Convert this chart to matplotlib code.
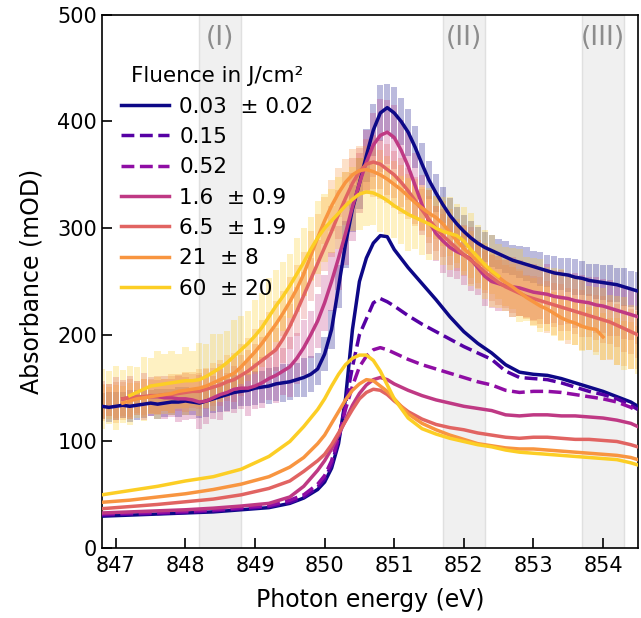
import numpy as np
import matplotlib
matplotlib.use("Agg")
import matplotlib.pyplot as plt

# fluence labels (J/cm^2)
labels = ["0.03  \u00b1 0.02", "0.15", "0.52", "1.6  \u00b1 0.9",
          "6.5  \u00b1 1.9", "21  \u00b1 8", "60  \u00b1 20"]
styles = ["-", "--", "--", "-", "-", "-", "-"]

# measured spectra, 0.1 eV bins from 846.8 to 854.5 eV
e_meas = np.round(np.arange(846.8, 854.55, 0.1), 1)

meas_003 = [133, 132, 133, 134, 133, 134, 135, 136, 135, 136, 137, 137,
            138, 137, 136, 138, 140, 142, 144, 146, 147, 148,
            150, 151, 152, 154, 155, 156, 158, 160, 163, 168,
            182, 205, 245, 285, 318, 342, 368, 392, 408, 413,
            408, 400, 390, 376, 360, 345, 333, 322, 312, 304,
            297, 291, 286, 282, 279, 276, 273, 270, 268, 266,
            264, 262, 260, 258, 257, 256, 254, 253, 251, 250,
            249, 248, 247, 245, 243, 241]
err_003 = [12, 14, 13, 12, 15, 14, 13, 12, 14, 13, 12, 14,
           13, 12, 14, 15, 13, 14, 15, 16, 14, 15,
           16, 15, 17, 16, 18, 17, 16, 18, 17, 15,
           16, 18, 20, 22, 22, 24, 25, 24, 26, 22,
           24, 22, 22, 20, 20, 18, 18, 17, 16, 16,
           15, 16, 15, 14, 15, 14, 15, 14, 15, 16,
           15, 16, 15, 16, 15, 16, 17, 16, 15, 16,
           16, 17, 16, 18, 17, 18]

meas_16 = [139, 139, 140, 140, 141, 141, 142, 142, 142, 141, 141, 140,
           140, 139, 137, 138, 141, 144, 146, 149, 150, 150,
           152, 155, 159, 162, 166, 170, 178, 188, 200, 213,
           230, 250, 272, 295, 320, 342, 362, 378, 387, 390,
           385, 373, 358, 340, 322, 306, 295, 288, 282, 278,
           275, 271, 263, 255, 250, 248, 246, 245, 244, 242,
           240, 239, 238, 236, 235, 234, 232, 231, 230, 228,
           227, 225, 223, 221, 219, 217]
err_16 = [18, 15, 20, 18, 20, 16, 22, 18, 16, 20, 18, 22,
          20, 18, 25, 22, 20, 24, 18, 22, 20, 26,
          22, 24, 20, 26, 22, 28, 24, 26, 22, 25,
          26, 28, 30, 30, 32, 28, 30, 30, 34, 30,
          30, 28, 32, 30, 28, 30, 26, 30, 28, 26,
          28, 30, 26, 28, 25, 26, 24, 28, 26, 25,
          26, 24, 28, 25, 26, 24, 26, 25, 24, 26,
          25, 26, 24, 25, 24, 26]

meas_65 = [138, 139, 139, 140, 141, 142, 142, 143, 143, 144, 144, 145,
           146, 147, 147, 149, 151, 153, 156, 158, 162, 166,
           171, 176, 181, 186, 196, 208, 222, 237, 252, 267,
           282, 297, 313, 328, 342, 353, 360, 362, 360, 355,
           350, 343, 335, 326, 317, 308, 300, 293, 287, 281,
           275, 270, 265, 259, 254, 249, 245, 242, 239, 236,
           234, 232, 230, 228, 226, 224, 222, 220, 218, 216,
           214, 212, 209, 206, 203, 200]
err_65 = [16, 15, 17, 16, 18, 15, 17, 16, 18, 15, 17, 16,
          18, 16, 17, 19, 18, 20, 18, 21, 19, 20,
          20, 22, 21, 20, 22, 21, 23, 22, 20, 22,
          22, 24, 23, 25, 24, 22, 24, 25, 23, 24,
          22, 23, 21, 22, 20, 22, 21, 20, 22, 21,
          20, 22, 21, 20, 22, 21, 20, 22, 21, 20,
          21, 22, 20, 21, 22, 20, 21, 22, 20, 21,
          22, 21, 20, 22, 21, 22]

meas_21 = [136, 136, 135, 136, 138, 140, 141, 142, 143, 144, 145, 147,
           148, 149, 150, 152, 155, 158, 161, 164, 170, 177,
           184, 192, 201, 210, 220, 231, 243, 257, 274, 291,
           307, 321, 333, 343, 350, 354, 355, 353, 350, 346,
           341, 336, 330, 324, 319, 314, 310, 304, 296, 288,
           281, 275, 269, 264, 259, 254, 249, 245, 240, 235,
           231, 227, 224, 220, 216, 213, 211, 208, 206, 205,
           198, 196, 194, 192, 190, 188]
err_21 = [17, 15, 18, 16, 17, 15, 18, 16, 17, 15, 18, 16,
          17, 16, 18, 17, 19, 18, 20, 19, 21, 20,
          21, 22, 20, 22, 21, 23, 22, 21, 23, 22,
          22, 24, 23, 22, 24, 23, 22, 24, 23, 22,
          22, 23, 21, 22, 21, 22, 20, 21, 22, 21,
          21, 22, 20, 22, 21, 20, 22, 21, 22, 20,
          22, 21, 22, 20, 21, 22, 21, 22, 20, 21,
          22, 20, 22, 21, 22, 20]

meas_60 = [140, 141, 141, 142, 143, 146, 149, 152, 153, 154, 155, 156,
           157, 157, 158, 161, 165, 169, 174, 180, 186, 192,
           199, 207, 217, 227, 236, 246, 257, 268, 280, 291,
           300, 307, 314, 321, 327, 332, 334, 333, 330, 326,
           321, 317, 313, 310, 307, 304, 300, 297, 295, 293,
           288, 280, 273, 266, 260, 255, 252, 249, 246, 243,
           240, 237, 234, 231, 228, 225, 222, 219, 216, 213,
           210, 207, 204, 201, 198, 195]
err_60 = [28, 25, 30, 25, 28, 24, 30, 26, 32, 28, 30, 26,
          32, 28, 34, 30, 36, 32, 30, 34, 32, 30,
          34, 32, 36, 34, 32, 30, 34, 32, 30, 34,
          32, 30, 34, 32, 30, 34, 32, 30, 34, 32,
          30, 32, 34, 30, 32, 34, 30, 32, 34, 30,
          32, 34, 30, 32, 34, 30, 30, 32, 34, 30,
          32, 34, 30, 32, 34, 30, 32, 34, 30, 32,
          34, 30, 32, 34, 30, 32]

# energy range covered by the smoothed line of each measurement
line_003 = (846.8, 854.5)
line_16 = (847.1, 854.5)
line_65 = (847.1, 854.5)
line_21 = (847.1, 854.0)
line_60 = (847.2, 852.5)

# simulated spectra for all seven fluences
e_sim = [846.8, 847.2, 847.6, 848.0, 848.4, 848.8, 849.2, 849.5, 849.7, 849.9,
         850.0, 850.1, 850.2, 850.3, 850.4, 850.5, 850.6, 850.7, 850.8, 850.9,
         851.0, 851.2, 851.4, 851.6, 851.8, 852.0, 852.2, 852.4, 852.6, 852.8,
         853.0, 853.2, 853.4, 853.6, 853.8, 854.0, 854.2, 854.4, 854.5]

sim_003 = [30, 31, 32, 33, 34, 36, 38, 42, 47, 55,
           62, 75, 98, 140, 205, 250, 272, 286, 293, 292,
           280, 263, 248, 233, 217, 203, 192, 183, 172, 165,
           163, 162, 159, 155, 151, 147, 142, 137, 133]
sim_015 = [31, 32, 32.5, 33.5, 35, 37, 39, 43, 48, 57,
           65, 78, 102, 135, 170, 200, 215, 230, 234, 231,
           227, 218, 210, 203, 196, 189, 183, 177, 166, 160,
           159, 158, 155, 151, 147, 144, 140, 134, 130]
sim_052 = [32, 33, 33.5, 34.5, 36, 38, 40, 45, 50, 60,
           68, 82, 104, 130, 152, 170, 180, 186, 188, 186,
           183, 177, 172, 168, 164, 160, 156, 153, 148, 146,
           147, 147, 146, 144, 142, 140, 137, 132, 128]
sim_16 = [33, 34, 35, 36, 37.5, 39.5, 42, 48, 58, 73,
          82, 93, 106, 120, 134, 145, 153, 158, 160, 158,
          154, 148, 143, 139, 136, 133, 131, 129, 125, 124,
          125, 125, 124, 124, 123, 122, 120, 117, 114]
sim_65 = [37, 39, 41, 43.5, 46, 50, 56, 63, 72, 82,
          88, 97, 108, 119, 130, 140, 146, 149, 148, 144,
          138, 128, 121, 116, 113, 111, 108, 106, 104, 103,
          104, 104, 103, 102, 102, 101, 100, 97, 95]
sim_21 = [43, 45, 48, 51, 55, 60, 67, 76, 85, 98,
          106, 117, 128, 139, 148, 154, 158, 157, 152, 147,
          140, 126, 117, 111, 106, 102, 98, 96, 94, 93,
          93, 92, 91, 90, 89, 88, 87, 85, 83]
sim_60 = [50, 54, 58, 63, 67, 74, 86, 100, 114, 130,
          140, 152, 163, 172, 178, 181, 181, 176, 166, 153,
          140, 122, 112, 107, 103, 100, 97, 95, 92, 90,
          89, 88, 87, 86, 85, 84, 83, 80, 78]

sims = [sim_003, sim_015, sim_052, sim_16, sim_65, sim_21, sim_60]
# measured series belong to fluence index 0, 3, 4, 5, 6
meas = {0: (meas_003, err_003, line_003), 3: (meas_16, err_16, line_16),
        4: (meas_65, err_65, line_65), 5: (meas_21, err_21, line_21),
        6: (meas_60, err_60, line_60)}

bands = [(848.2, 848.8, "(I)"), (851.7, 852.3, "(II)"), (853.7, 854.3, "(III)")]

colors = plt.cm.plasma(np.linspace(0, 0.9, 7))

fig = plt.figure(figsize=(6.41, 6.18), dpi=100)
ax = fig.add_axes([0.159, 0.113, 0.836, 0.863])

for lo, hi, name in bands:
    ax.axvspan(lo, hi, facecolor="0.94", edgecolor="0.88", lw=1, zorder=0)
    ax.text((lo + hi) / 2, 478, name, ha="center", va="center",
            fontsize=19, color="0.55", zorder=1)

# error boxes of the measurements
for i, (vals, errs, _) in meas.items():
    vals = np.array(vals, dtype=float)
    errs = np.array(errs, dtype=float)
    ax.bar(e_meas, 2 * errs, bottom=vals - errs, width=0.09,
           color=colors[i], alpha=0.28, linewidth=0, zorder=2)

handles = []
for i in range(7):
    if i in meas:
        vals, _, (e0, e1) = meas[i]
        sel = (e_meas >= e0 - 1e-6) & (e_meas <= e1 + 1e-6)
        ax.plot(e_meas[sel], np.array(vals, dtype=float)[sel],
                color=colors[i], lw=2.5, zorder=3)
    h, = ax.plot(e_sim, sims[i], color=colors[i], ls=styles[i], lw=2.5,
                 zorder=3)
    handles.append(h)

ax.set_xlim(846.8, 854.5)
ax.set_ylim(0, 500)
ax.set_xticks(range(847, 855))
ax.set_yticks(range(0, 501, 100))
ax.tick_params(direction="in", length=7, width=1.2, labelsize=15)
ax.tick_params(axis="x", pad=6)
for s in ax.spines.values():
    s.set_linewidth(1.2)
ax.set_xlabel("Photon energy (eV)", fontsize=17, labelpad=8)
ax.set_ylabel("Absorbance (mOD)", fontsize=17, labelpad=10)

leg = ax.legend(handles, labels, title="Fluence in J/cm\u00b2", loc="upper left",
                bbox_to_anchor=(0.0, 0.94), frameon=False, fontsize=15.5,
                title_fontsize=15.5, handlelength=2.2, handletextpad=0.5,
                labelspacing=0.48)

fig.savefig("out.png", dpi=100)
